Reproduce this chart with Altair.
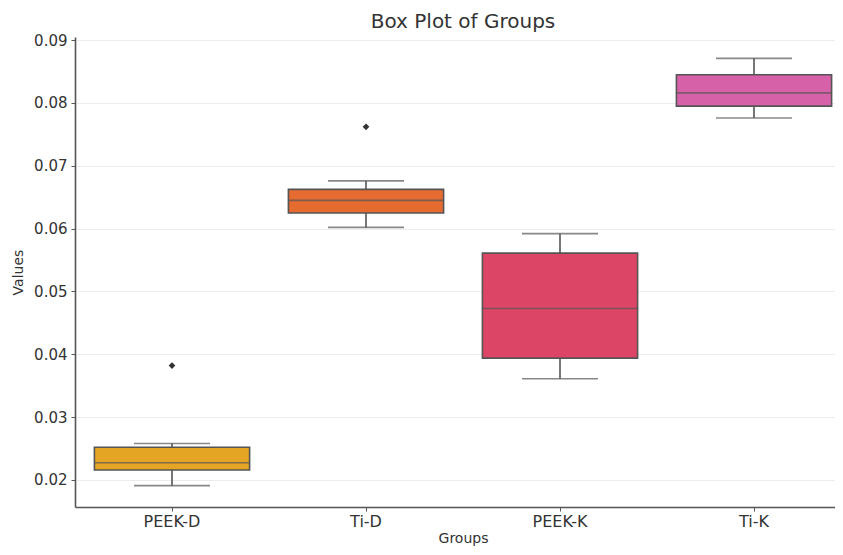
import altair as alt
import pandas as pd

groups = ["PEEK-D", "Ti-D", "PEEK-K", "Ti-K"]
whisk_lo = [0.0191, 0.0602, 0.0361, 0.0776]
q1 = [0.0216, 0.0625, 0.0394, 0.0795]
median = [0.02275, 0.0645, 0.0473, 0.0816]
q3 = [0.0252, 0.06625, 0.0561, 0.0845]
whisk_hi = [0.0258, 0.0676, 0.0592, 0.0871]
colors = ["#e5a524", "#e56b30", "#dc4566", "#d661a8"]

out_groups = ["PEEK-D", "Ti-D"]
out_values = [0.0382, 0.0762]

stats = pd.DataFrame({"group": groups, "lo": whisk_lo, "q1": q1, "med": median,
                      "q3": q3, "hi": whisk_hi})
outl = pd.DataFrame({"group": out_groups, "value": out_values})

edge = "#555555"
xscale = alt.Scale(domain=groups, paddingInner=0, paddingOuter=0, range=[0, 776])
yscale = alt.Scale(domain=[0.0157, 0.0905], nice=False, zero=False)

x = alt.X("group:N", scale=xscale, sort=groups, title="Groups",
          axis=alt.Axis(labelAngle=0))
y_axis = alt.Axis(values=[0.02, 0.03, 0.04, 0.05, 0.06, 0.07, 0.08, 0.09], format=".2f")

base = alt.Chart(stats)

whisk = base.mark_rule(color=edge, strokeWidth=1.6).encode(
    x=x, y=alt.Y("lo:Q", scale=yscale, axis=y_axis, title="Values"), y2="hi:Q")
caps_lo = base.mark_tick(color=edge, size=76, thickness=1.6).encode(
    x=x, y=alt.Y("lo:Q", scale=yscale))
caps_hi = base.mark_tick(color=edge, size=76, thickness=1.6).encode(
    x=x, y=alt.Y("hi:Q", scale=yscale))
box = base.mark_bar(width={"band": 0.8}, stroke=edge, strokeWidth=1.6, opacity=1).encode(
    x=x, y=alt.Y("q1:Q", scale=yscale), y2="q3:Q",
    color=alt.Color("group:N", scale=alt.Scale(domain=groups, range=colors), legend=None))
med = base.mark_tick(color=edge, size=155, thickness=1.6).encode(
    x=x, y=alt.Y("med:Q", scale=yscale))
pts = alt.Chart(outl).mark_point(shape="diamond", filled=True, color="#333333",
                                 size=45, opacity=1).encode(
    x=x, y=alt.Y("value:Q", scale=yscale))

chart = alt.layer(whisk, caps_lo, caps_hi, box, med, pts).properties(
    width=760, height=470,
    title=alt.TitleParams("Box Plot of Groups", fontSize=20, font="DejaVu Sans",
                          fontWeight="normal", color="#333333", offset=1, dx=8),
    autosize=alt.AutoSizeParams(type="none"),
    padding={"left": 67, "top": 29, "right": 0, "bottom": 40},
).configure_view(stroke=None).configure_axis(
    labelFont="DejaVu Sans", titleFont="DejaVu Sans", labelFontSize=15,
    titleFontSize=14, titleFontWeight="normal", labelColor="#333333",
    titleColor="#333333", domainColor="#555555", domainWidth=1.6,
    tickColor="#555555", tickSize=4, gridColor="#ececec", gridWidth=1,
).configure_axisX(grid=False, labelPadding=2, titlePadding=2, labelFontSize=16
).configure_axisY(grid=True, labelPadding=4, titlePadding=8)

chart.save("out.html", embed_options={"renderer": "svg", "actions": False})
